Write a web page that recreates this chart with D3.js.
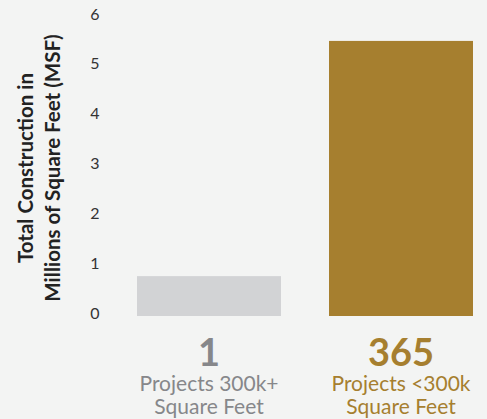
<!DOCTYPE html>
<html>
<head>
<meta charset="utf-8">
<script src="https://cdn.jsdelivr.net/npm/d3@7"></script>
<style>
  html, body { margin: 0; padding: 0; background: #f3f4f3; }
  svg { display: block; font-family: Lato, "Open Sans", sans-serif; }
</style>
</head>
<body>
<svg id="chart" width="487" height="419"></svg>
<script>
// Construction volume by project size
const categories = ["Projects 300k+|Square Feet", "Projects <300k|Square Feet"];
const msf = [0.80, 5.52];
const projectCounts = ["1", "365"];
const barColors = ["#d2d3d5", "#a67f2f"];
const labelColors = ["#86878a", "#a67f2f"];
const yTicks = [0, 1, 2, 3, 4, 5, 6];

const svg = d3.select("#chart");

const x = d3.scaleBand()
  .domain(categories)
  .range([113, 497])
  .paddingInner(0.25)
  .paddingOuter(0.125);

const y = d3.scaleLinear()
  .domain([0, 6])
  .range([316, 17]);

// Y axis: labels only, no line or ticks
const yAxis = svg.append("g")
  .attr("transform", "translate(101,-3)")
  .call(d3.axisLeft(y).tickValues(yTicks).tickSize(0).tickPadding(0).tickFormat(d3.format("d")));
yAxis.select(".domain").remove();
yAxis.selectAll("text")
  .attr("text-anchor", "middle")
  .attr("x", -6)
  .style("font-family", "Lato, sans-serif")
  .style("font-size", "16px")
  .style("fill", "#333");

// Axis title in two lines
const title = svg.append("text")
  .attr("transform", "translate(0,168) rotate(-90)")
  .attr("text-anchor", "middle")
  .style("font-size", "20.5px")
  .style("font-weight", "bold")
  .style("fill", "#222");
title.append("tspan").attr("x", 0).attr("y", 33).text("Total Construction in");
title.append("tspan").attr("x", 0).attr("y", 60).text("Millions of Square Feet (MSF)");

// Bars
svg.append("g").selectAll("rect")
  .data(categories)
  .join("rect")
  .attr("x", d => x(d))
  .attr("width", x.bandwidth())
  .attr("y", (d, i) => y(msf[i]))
  .attr("height", (d, i) => y(0) - y(msf[i]))
  .attr("fill", (d, i) => barColors[i]);

// Project counts and category labels below bars
const lbl = svg.append("g").selectAll("g")
  .data(categories)
  .join("g")
  .attr("transform", d => `translate(${x(d) + x.bandwidth() / 2},0)`);

lbl.append("text")
  .attr("y", 366)
  .attr("text-anchor", "middle")
  .style("font-size", "38px")
  .style("font-weight", "bold")
  .style("fill", (d, i) => labelColors[i])
  .text((d, i) => projectCounts[i]);

lbl.each(function(d, i) {
  const parts = d.split("|");
  const t = d3.select(this).append("text")
    .attr("text-anchor", "middle")
    .style("font-size", "21px")
    .style("fill", labelColors[i]);
  parts.forEach((p, k) => {
    t.append("tspan").attr("x", 0).attr("y", 391 + k * 23).text(p);
  });
});
</script>
</body>
</html>
